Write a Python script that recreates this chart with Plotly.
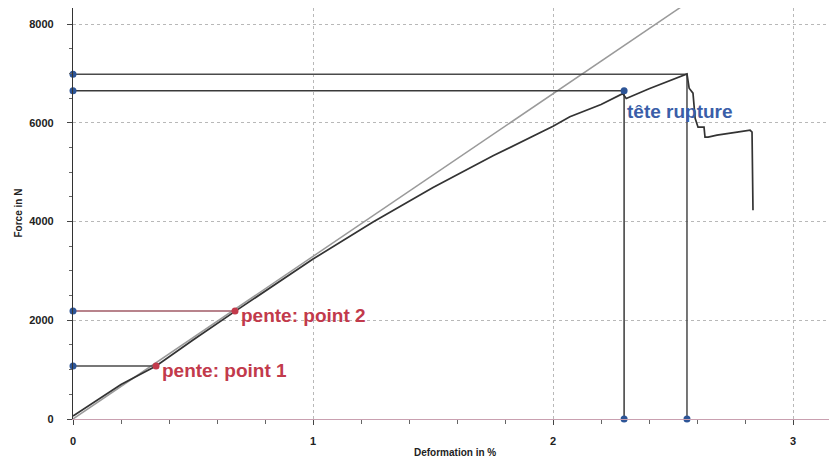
import plotly.graph_objects as go

# ---- data ----
curve_x = [0, 0.10, 0.20, 0.346, 0.50, 0.675, 0.85, 1.0, 1.25, 1.50, 1.75, 2.0, 2.07, 2.20, 2.29, 2.305,
           2.40, 2.50, 2.558, 2.567, 2.583, 2.592, 2.604, 2.629, 2.633, 2.646, 2.683, 2.767, 2.821, 2.829, 2.833]
curve_y = [60, 380, 700, 1073, 1600, 2180, 2760, 3240, 3990, 4690, 5330, 5930, 6120, 6370, 6590, 6490,
           6690, 6880, 6990, 6700, 6600, 6090, 5910, 5910, 5710, 5710, 5750, 5810, 5850, 5810, 4230]

tangent_x = [0, 2.55]
tangent_y = [0, 8400]

slope_pts_x = [0.346, 0.675]
slope_pts_y = [1073, 2186]
slope_labels = ["pente: point 1", "pente: point 2"]

rupture_x = 2.296
rupture_y = 6650
rupture_label = "tête rupture"

peak_x = 2.558
peak_y = 6980

y_ticks = [0, 2000, 4000, 6000, 8000]
x_ticks = [0, 1, 2, 3]
x_title = "Deformation in %"
y_title = "Force in N"

BLUE = "#2d5597"
RED = "#c23a4b"
DARK = "#333333"

fig = go.Figure()

# tangent (slope) line
fig.add_trace(go.Scatter(x=tangent_x, y=tangent_y, mode="lines",
                         line=dict(color="#9a9a9a", width=1.5), hoverinfo="skip"))

# guide lines: horizontal to y axis and vertical to x axis
fig.add_trace(go.Scatter(x=[0, peak_x, peak_x], y=[peak_y, peak_y, 0], mode="lines",
                         line=dict(color="#4a4a4a", width=1.5), hoverinfo="skip"))
fig.add_trace(go.Scatter(x=[0, rupture_x, rupture_x], y=[rupture_y, rupture_y, 0], mode="lines",
                         line=dict(color="#3a3a3a", width=1.5), hoverinfo="skip"))
fig.add_trace(go.Scatter(x=[0, slope_pts_x[0]], y=[slope_pts_y[0]] * 2, mode="lines",
                         line=dict(color="#4a4a4a", width=1.5), hoverinfo="skip"))
fig.add_trace(go.Scatter(x=[0, slope_pts_x[1]], y=[slope_pts_y[1]] * 2, mode="lines",
                         line=dict(color="#a05a66", width=1.5), hoverinfo="skip"))

# main curve
fig.add_trace(go.Scatter(x=curve_x, y=curve_y, mode="lines",
                         line=dict(color=DARK, width=1.7), hoverinfo="skip"))

# blue markers on axes and at rupture point
fig.add_trace(go.Scatter(
    x=[0, 0, 0, 0, rupture_x, peak_x, rupture_x],
    y=[peak_y, rupture_y, slope_pts_y[1], slope_pts_y[0], 0, 0, rupture_y],
    mode="markers", marker=dict(color=BLUE, size=7), cliponaxis=False, hoverinfo="skip"))

# red slope points
fig.add_trace(go.Scatter(x=slope_pts_x, y=slope_pts_y, mode="markers",
                         marker=dict(color=RED, size=7), cliponaxis=False, hoverinfo="skip"))

# labels
for px, py, lab in zip(slope_pts_x, slope_pts_y, slope_labels):
    fig.add_annotation(x=px, y=py, text=lab, showarrow=False, xanchor="left", yanchor="middle",
                       xshift=4, yshift=-4,
                       font=dict(family="Liberation Sans, Arial", size=19, color=RED, weight="bold"))
fig.add_annotation(x=rupture_x, y=rupture_y, text=rupture_label, showarrow=False,
                   xanchor="left", yanchor="middle", xshift=1, yshift=-21,
                   font=dict(family="Liberation Sans, Arial", size=19, color="#3a5ea8", weight="bold"))

# axis titles
fig.add_annotation(xref="paper", yref="paper", x=0, y=0.5, xshift=-55, yshift=0, text=y_title,
                   textangle=-90, showarrow=False, xanchor="center", yanchor="middle",
                   font=dict(family="Liberation Sans, Arial", size=10, color="#222", weight="bold"))
fig.add_annotation(xref="paper", yref="paper", x=0.5, y=0, yshift=-33, text=x_title,
                   showarrow=False, xanchor="center", yanchor="middle",
                   font=dict(family="Liberation Sans, Arial", size=10, color="#222", weight="bold"))

# page body has an 8px margin: figure is sized to fit the 837x463 window
fig.update_layout(
    width=829, height=455,
    margin=dict(l=65, r=0, t=0, b=44, autoexpand=False),
    paper_bgcolor="white", plot_bgcolor="white",
    showlegend=False,
    xaxis=dict(range=[0, 3.183], tickvals=x_ticks, showgrid=True, gridcolor="#b8b8b8",
               griddash="dot", gridwidth=1, zeroline=False, automargin=False,
               showline=True, linecolor="#c9a0b0", linewidth=1,
               ticks="outside", ticklen=5, tickcolor="#444",
               minor=dict(dtick=0.2, ticks="outside", ticklen=4, tickcolor="#666", showgrid=False),
               ticklabelstandoff=7,
               tickfont=dict(family="Liberation Sans, Arial", size=11, color="#222", weight="bold")),
    yaxis=dict(range=[0, 8324], tickvals=y_ticks, showgrid=True, gridcolor="#b8b8b8",
               griddash="dot", gridwidth=1, zeroline=False, automargin=False,
               showline=True, linecolor="#333", linewidth=1.2,
               ticks="outside", ticklen=5, tickcolor="#444",
               minor=dict(dtick=500, ticks="outside", ticklen=3, tickcolor="#666", showgrid=False),
               ticklabelstandoff=11,
               tickfont=dict(family="Liberation Sans, Arial", size=11, color="#222", weight="bold")),
)

fig.write_html("out.html")
